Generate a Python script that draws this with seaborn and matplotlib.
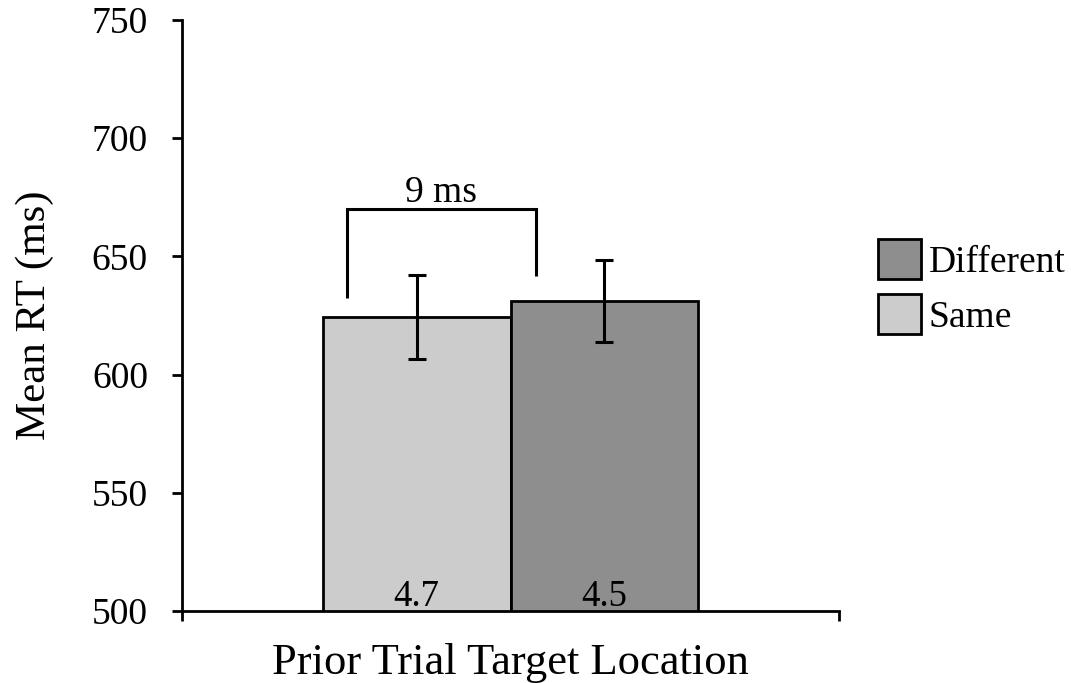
import matplotlib
matplotlib.use("Agg")
import matplotlib.pyplot as plt
from matplotlib.patches import Patch
import numpy as np
import pandas as pd
import seaborn as sns

# Mean response time by prior-trial target location
conditions = ["Same", "Different"]
mean_rt = [624.4, 631.1]
sem_rt = [17.6, 17.5]
bar_labels = ["4.7", "4.5"]
bar_colors = ["#cccccc", "#8e8e8e"]
legend_order = ["Different", "Same"]
y_ticks = [500, 550, 600, 650, 700, 750]
difference_label = "9 ms"
bracket_top = 670.0
bracket_left_end = 632.6
bracket_right_end = 641.6

sns.set_theme(style="white")
plt.rcParams["font.family"] = ["Liberation Serif", "DejaVu Serif"]
plt.rcParams.update({
    "text.color": "black",
    "axes.labelcolor": "black",
    "xtick.color": "black",
    "ytick.color": "black",
})

df = pd.DataFrame({
    "group": [""] * len(conditions),
    "condition": conditions,
    "rt": mean_rt,
})

fig = plt.figure(figsize=(10.71, 6.83), dpi=100)
ax = fig.add_axes([182 / 1071, 1 - 611 / 683, (839 - 182) / 1071, (611 - 20) / 683])

palette = dict(zip(conditions, bar_colors))
sns.barplot(
    data=df, x="group", y="rt", hue="condition", hue_order=conditions,
    palette=palette, width=0.572, edgecolor="black", linewidth=2,
    errorbar=None, legend=False, ax=ax, saturation=1,
)

ax.set_xlim(-0.5, 0.5)
ax.set_ylim(500, 750)

# bar centers in data coordinates, in hue order
bars = sorted(ax.patches, key=lambda p: p.get_x())
centers = [b.get_x() + b.get_width() / 2 for b in bars]
widths = [b.get_width() for b in bars]

ax.errorbar(centers, mean_rt, yerr=sem_rt, fmt="none", ecolor="black",
            elinewidth=2.2, capsize=6.8, capthick=2.2, zorder=5)

for c, lab in zip(centers, bar_labels):
    ax.text(c, 502.2, lab, ha="center", va="baseline", fontsize=26.5,
            color="black", zorder=6)

# difference bracket over the two conditions
x_left = centers[0] - 0.37 * widths[0]
x_right = centers[0] + 0.635 * widths[0]
ax.plot([x_left, x_left, x_right, x_right],
        [bracket_left_end, bracket_top, bracket_top, bracket_right_end],
        color="black", lw=2.2, solid_capstyle="butt", solid_joinstyle="miter",
        zorder=5, clip_on=False)
ax.text((x_left + x_right) / 2, bracket_top + 3.2, difference_label,
        ha="center", va="baseline", fontsize=27, color="black")

# axes styling
for side in ["top", "right"]:
    ax.spines[side].set_visible(False)
for side in ["left", "bottom"]:
    ax.spines[side].set_color("black")
    ax.spines[side].set_linewidth(2)

ax.set_yticks(y_ticks)
ax.set_yticklabels([str(t) for t in y_ticks])
ax.set_xticks([-0.5, 0.5])
ax.set_xticklabels(["", ""])
ax.tick_params(axis="y", direction="out", length=7.5, width=2, color="black",
               labelcolor="black", labelsize=27, pad=17, left=True)
ax.tick_params(axis="x", direction="out", length=7.5, width=2, color="black",
               bottom=True)

ax.set_xlabel("Prior Trial Target Location", fontsize=32, labelpad=12, color="black")
ax.set_ylabel("Mean RT (ms)", fontsize=31, labelpad=27, color="black")

handles = [Patch(facecolor=palette[k], edgecolor="black", linewidth=2, label=k)
           for k in legend_order]
leg = fig.legend(handles=handles, loc="upper left",
                 bbox_to_anchor=(878 / 1071, 1 - 239 / 683),
                 frameon=False, fontsize=27, handlelength=1.15, handleheight=1.28,
                 handletextpad=0.2, labelspacing=0.38, borderpad=0, borderaxespad=0)
for t in leg.get_texts():
    t.set_color("black")

fig.savefig("out.png", dpi=100, facecolor="white")
